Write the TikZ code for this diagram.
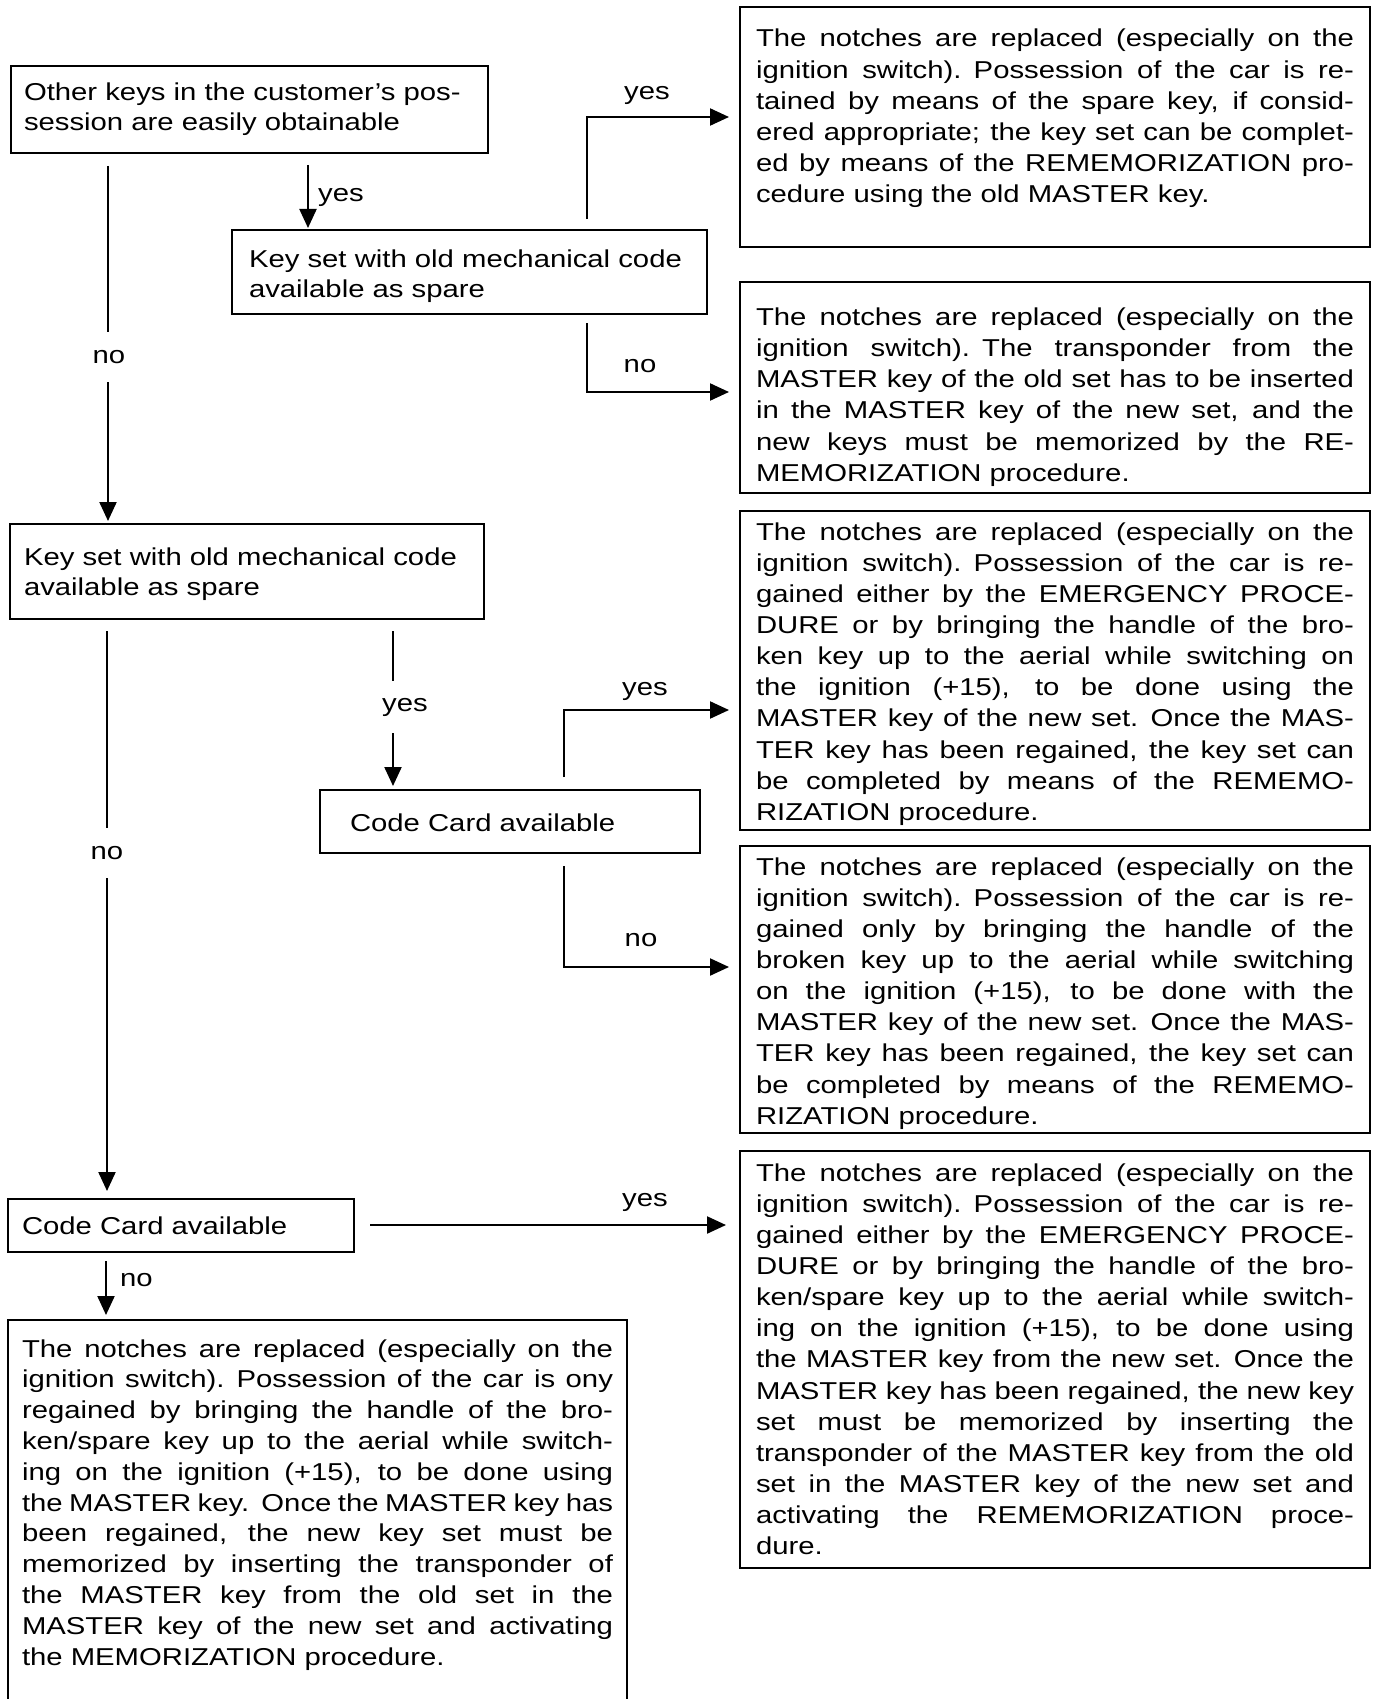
\documentclass[tikz,border=0pt]{standalone}
\usepackage{fontspec}
\newfontfamily\manualfont{Liberation Sans}[FakeStretch=1.2]
\usetikzlibrary{arrows.meta}

% one justified line of a text box
\newcommand{\jl}[1]{\hbox to\hsize{\spaceskip=.28em plus 1.5em minus .1em\relax #1}\par}

\tikzset{
  box/.style={draw, line width=2.2pt, inner ysep=0pt, outer sep=0pt,
    anchor=base west, align=left,
    font=\manualfont\fontsize{24.4pt}{30pt}\selectfont},
  rbox/.style={box, text width=598pt, inner xsep=16pt,
    font=\manualfont\fontsize{24.4pt}{31.15pt}\selectfont},
  flow/.style={line width=2.2pt, -{Triangle[length=19pt,width=17pt]}},
  lbl/.style={font=\manualfont\fontsize{24.4pt}{30pt}\selectfont, inner sep=0pt},
  gap/.style={lbl, fill=white, inner xsep=3pt, inner ysep=18pt},
}

\begin{document}
\begin{tikzpicture}[x=1pt, y=-1pt]
  \useasboundingbox (0,0) rectangle (1378,1699);
  \clip (0,0) rectangle (1378,1699);

  % left column
  \node[box, text width=451pt, inner xsep=13pt, text height=35pt, text depth=52pt] (a) at (11,101)
    {Other keys in the customer’s pos-\\session are easily obtainable};
  \node[box, text width=441pt, inner xsep=17pt, text height=37pt, text depth=47pt] (b) at (232,267)
    {Key set with old mechanical code\\available as spare};
  \node[box, text width=446pt, inner xsep=14pt, text height=41pt, text depth=54pt] (c) at (10,565)
    {Key set with old mechanical code\\available as spare};
  \node[box, text width=320pt, inner xsep=30pt, text height=41pt, text depth=22pt] (d) at (320,831)
    {Code Card available};
  \node[box, text width=318pt, inner xsep=14pt, text height=35pt, text depth=18pt] (e) at (8,1234)
    {Code Card available};
  \node[box, text width=591pt, inner xsep=14pt, text height=37pt, text depth=360pt,
    font=\manualfont\fontsize{24.4pt}{30.8pt}\selectfont] (f) at (8,1357) {%
    \jl{The notches are replaced (especially on the}
    \jl{ignition switch). Possession of the car is ony}
    \jl{regained by bringing the handle of the bro-}
    \jl{ken/spare key up to the aerial while switch-}
    \jl{ing on the ignition (+15), to be done using}
    \jl{the MASTER key. Once the MASTER key has}
    \jl{been regained, the new key set must be}
    \jl{memorized by inserting the transponder of}
    \jl{the MASTER key from the old set in the}
    \jl{MASTER key of the new set and activating}
    the MEMORIZATION procedure.};

  % right column
  \node[rbox, text height=40pt, text depth=200pt] (r1) at (740,47) {%
    \jl{The notches are replaced (especially on the}
    \jl{ignition switch). Possession of the car is re-}
    \jl{tained by means of the spare key, if consid-}
    \jl{ered appropriate; the key set can be complet-}
    \jl{ed by means of the REMEMORIZATION pro-}
    cedure using the old MASTER key.};
  \node[rbox, text height=43.5pt, text depth=167.5pt] (r2) at (740,325.5) {%
    \jl{The notches are replaced (especially on the}
    \jl{ignition switch). The transponder from the}
    \jl{MASTER key of the old set has to be inserted}
    \jl{in the MASTER key of the new set, and the}
    \jl{new keys must be memorized by the RE-}
    MEMORIZATION procedure.};
  \node[rbox, text height=29pt, text depth=290pt] (r3) at (740,540) {%
    \jl{The notches are replaced (especially on the}
    \jl{ignition switch). Possession of the car is re-}
    \jl{gained either by the EMERGENCY PROCE-}
    \jl{DURE or by bringing the handle of the bro-}
    \jl{ken key up to the aerial while switching on}
    \jl{the ignition (+15), to be done using the}
    \jl{MASTER key of the new set. Once the MAS-}
    \jl{TER key has been regained, the key set can}
    \jl{be completed by means of the REMEMO-}
    RIZATION procedure.};
  \node[rbox, text height=29pt, text depth=258pt] (r4) at (740,875) {%
    \jl{The notches are replaced (especially on the}
    \jl{ignition switch). Possession of the car is re-}
    \jl{gained only by bringing the handle of the}
    \jl{broken key up to the aerial while switching}
    \jl{on the ignition (+15), to be done with the}
    \jl{MASTER key of the new set. Once the MAS-}
    \jl{TER key has been regained, the key set can}
    \jl{be completed by means of the REMEMO-}
    RIZATION procedure.};
  \node[rbox, text height=30pt, text depth=387pt] (r5) at (740,1181) {%
    \jl{The notches are replaced (especially on the}
    \jl{ignition switch). Possession of the car is re-}
    \jl{gained either by the EMERGENCY PROCE-}
    \jl{DURE or by bringing the handle of the bro-}
    \jl{ken/spare key up to the aerial while switch-}
    \jl{ing on the ignition (+15), to be done using}
    \jl{the MASTER key from the new set. Once the}
    \jl{MASTER key has been regained, the new key}
    \jl{set must be memorized by inserting the}
    \jl{transponder of the MASTER key from the old}
    \jl{set in the MASTER key of the new set and}
    \jl{activating the REMEMORIZATION proce-}
    dure.};

  % yes / no branches
  \draw[flow] ([shift={(297,12)}]a.south west) -- ([shift={(76,-2)}]b.north west);
  \draw[flow] ([shift={(97,13)}]a.south west) -- ([shift={(98,-3)}]c.north west);
  \draw[flow] ([shift={(355,-11)}]b.north west) |- ([shift={(-11,110)}]r1.north west);
  \draw[flow] ([shift={(355,9)}]b.south west) |- ([shift={(-11,110)}]r2.north west);
  \draw[flow] ([shift={(383,12)}]c.south west) -- ([shift={(73,-4)}]d.north west);
  \draw[flow] ([shift={(97,12)}]c.south west) -- ([shift={(99,-8)}]e.north west);
  \draw[flow] ([shift={(244,-13)}]d.north west) |- ([shift={(-11,199)}]r3.north west);
  \draw[flow] ([shift={(244,13)}]d.south west) |- ([shift={(-11,121)}]r4.north west);
  \draw[flow] ([shift={(16,-27)}]e.south east) -- ([shift={(-14,74)}]r5.north west);
  \draw[flow] ([shift={(98,9)}]e.south west) -- ([shift={(98,-5)}]f.north west);

  \node[lbl, anchor=west] (ayes) at (318,197) {yes};
  \node[gap] (ano) at (109,357) {no};
  \node[lbl] (byes) at (647,95) {yes};
  \node[lbl] (bno) at (640,366) {no};
  \node[gap, inner ysep=17pt] (cyes) at (405,707) {yes};
  \node[gap] (cno) at (107,853) {no};
  \node[lbl] (dyes) at (645,691) {yes};
  \node[lbl] (dno) at (641,940) {no};
  \node[lbl] (eyes) at (645,1202) {yes};
  \node[lbl, anchor=west] (eno) at (120,1280) {no};
\end{tikzpicture}
\end{document}
